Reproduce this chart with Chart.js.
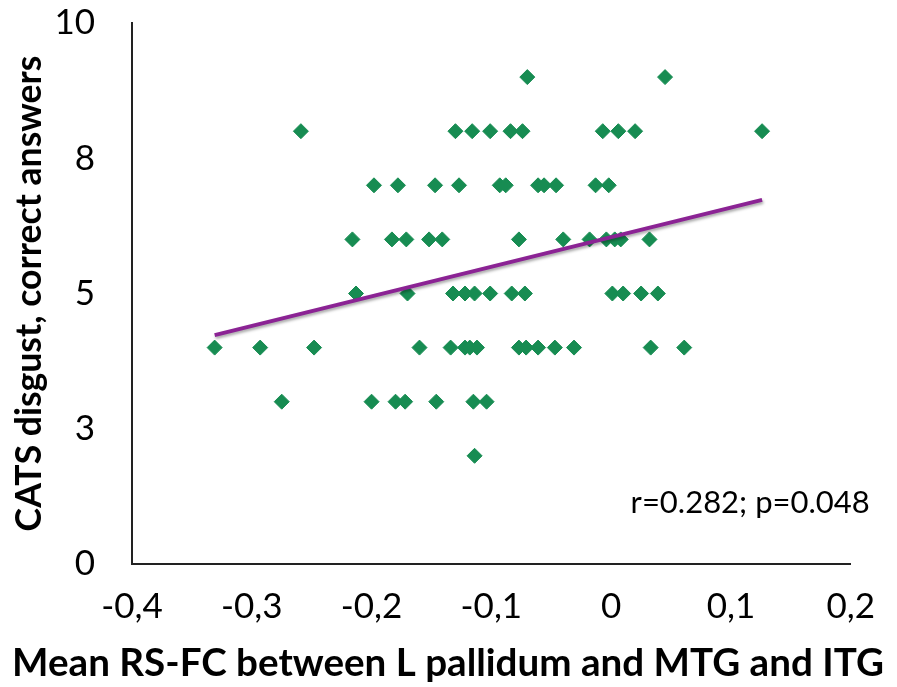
<!DOCTYPE html>
<html>
<head>
<meta charset="utf-8">
<script src="https://cdn.jsdelivr.net/npm/chart.js@4.4.1/dist/chart.umd.min.js"></script>
<style>
body { margin: 0; background: #fff; }
#wrap { width: 897px; height: 687px; }
</style>
</head>
<body>
<div id="wrap"><canvas id="myChart"></canvas></div>
<script>
// mean RS-FC (x) and CATS disgust correct answers (y)
var xValues = [-0.070, 0.045,
  -0.259, -0.130, -0.116, -0.101, -0.084, -0.074, -0.007, 0.006, 0.020, 0.126,
  -0.198, -0.178, -0.147, -0.127, -0.093, -0.088, -0.061, -0.056, -0.046, -0.013, -0.002,
  -0.216, -0.183, -0.171, -0.152, -0.141, -0.077, -0.040, -0.018, -0.004, 0.003, 0.008, 0.032,
  -0.213, -0.170, -0.132, -0.122, -0.114, -0.101, -0.083, -0.072, 0.001, 0.010, 0.025, 0.039,
  -0.331, -0.293, -0.248, -0.160, -0.134, -0.122, -0.118, -0.112, -0.077, -0.071, -0.061, -0.047, -0.031, 0.033, 0.061,
  -0.275, -0.200, -0.180, -0.172, -0.146, -0.115, -0.104,
  -0.114];
var yValues = [9, 9,
  8, 8, 8, 8, 8, 8, 8, 8, 8, 8,
  7, 7, 7, 7, 7, 7, 7, 7, 7, 7, 7,
  6, 6, 6, 6, 6, 6, 6, 6, 6, 6, 6, 6,
  5, 5, 5, 5, 5, 5, 5, 5, 5, 5, 5, 5,
  4, 4, 4, 4, 4, 4, 4, 4, 4, 4, 4, 4, 4, 4, 4,
  3, 3, 3, 3, 3, 3, 3,
  2];

// trend line end points
var trendX = [-0.331, 0.126];
var trendY = [4.23, 6.73];

var xTickLabels = ["-0,4", "-0,3", "-0,2", "-0,1", "0", "0,1", "0,2"];
var yTickLabels = ["0", "3", "5", "8", "10"];
var xTitle = "Mean RS-FC between L pallidum and MTG and ITG";
var yTitle = "CATS disgust, correct answers";
var statsText = "r=0.282; p=0.048";

var points = [];
for (let i = 0; i < xValues.length; i++) {
    points.push({x: xValues[i], y: yValues[i]});
}
var trend = [];
for (let i = 0; i < trendX.length; i++) {
    trend.push({x: trendX[i], y: trendY[i]});
}

// pick a bold font size so the text takes the given length
function fitFont(ctx, text, len) {
    ctx.font = "bold 36px Lato";
    let w = ctx.measureText(text).width;
    return Math.round(36 * len / w * 10) / 10;
}

var lineShadow = {
    id: "lineShadow",
    beforeDatasetDraw: function(chart, args) {
        if (args.index !== 0) return;
        let ctx = chart.ctx;
        ctx.save();
        ctx.shadowColor = "rgba(0,0,0,0.35)";
        ctx.shadowBlur = 3;
        ctx.shadowOffsetX = 1;
        ctx.shadowOffsetY = 2;
    },
    afterDatasetDraw: function(chart, args) {
        if (args.index !== 0) return;
        chart.ctx.restore();
    }
};

var labels = {
    id: "labels",
    afterDraw: function(chart) {
        let ctx = chart.ctx;
        let area = chart.chartArea;
        ctx.save();
        ctx.fillStyle = "#000";
        ctx.textBaseline = "middle";

        ctx.font = "31px Lato";
        ctx.textAlign = "right";
        ctx.fillText(statsText, area.right + 19, area.bottom - 61);

        ctx.textAlign = "center";
        let xs = fitFont(ctx, xTitle, 873);
        ctx.font = "bold " + xs + "px Lato";
        ctx.fillText(xTitle, 448, 664);

        let ys = fitFont(ctx, yTitle, 476);
        ctx.font = "bold " + ys + "px Lato";
        ctx.translate(30, (area.top + area.bottom) / 2);
        ctx.rotate(-Math.PI / 2);
        ctx.fillText(yTitle, 0, 0);
        ctx.restore();
    }
};

new Chart("myChart", {
type: "scatter",
data: {
    datasets: [{
        type: "line",
        data: trend,
        borderColor: "#8b2394",
        borderWidth: 4,
        pointRadius: 0,
        fill: false
    }, {
        data: points,
        pointStyle: "rectRot",
        pointRadius: 7.5,
        pointBackgroundColor: "#178c52",
        pointBorderColor: "#178c52",
        pointBorderWidth: 1
    }]
},
options: {
    responsive: true,
    maintainAspectRatio: false,
    animation: false,
    layout: {padding: {top: 23, right: 39, left: 0, bottom: 0}},
    scales: {
        x: {
            type: "linear",
            min: -0.4,
            max: 0.2,
            grid: {display: false, drawTicks: false},
            border: {display: true, color: "#222", width: 2},
            ticks: {
                stepSize: 0.1,
                padding: 22,
                color: "#000",
                font: {family: "Lato", size: 35},
                callback: function(v, i) { return xTickLabels[i]; }
            },
            afterFit: function(scale) { scale.height = 123; }
        },
        y: {
            min: 0,
            max: 10,
            grid: {display: false, drawTicks: false},
            border: {display: true, color: "#222", width: 2},
            ticks: {
                stepSize: 2.5,
                padding: 37,
                color: "#000",
                font: {family: "Lato", size: 35},
                callback: function(v, i) { return yTickLabels[i]; }
            },
            afterFit: function(scale) {
                scale.width = 132;
                scale.paddingTop = 20;
                scale.paddingBottom = 20;
            }
        }
    },
    plugins: {
        legend: {display: false},
        tooltip: {enabled: false}
    }
},
plugins: [lineShadow, labels]
});
</script>
</body>
</html>
